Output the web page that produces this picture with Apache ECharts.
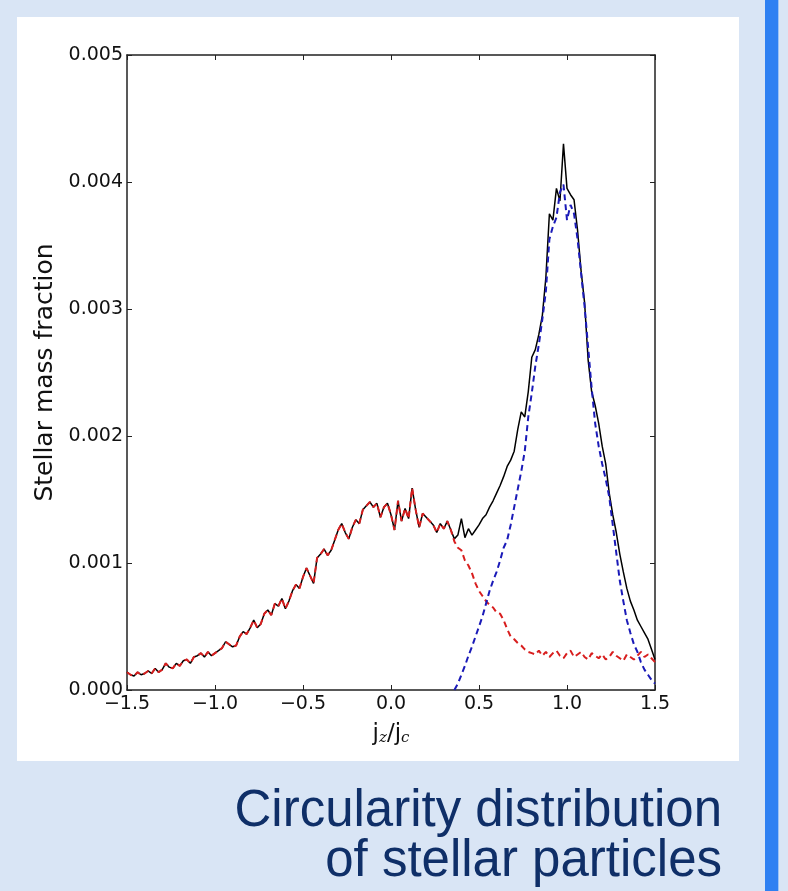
<!DOCTYPE html>
<html>
<head>
<meta charset="utf-8">
<title>Circularity distribution</title>
<script src="https://cdn.jsdelivr.net/npm/echarts@6/dist/echarts.min.js"></script>
<style>
  html, body { margin: 0; padding: 0; background: #d9e5f5; }
  #main { width: 788px; height: 891px; }
</style>
</head>
<body>
<div id="main"></div>
<script>
// bins of j_z/j_c, -1.5 .. 1.5 in steps of 0.02
var binStart = -1.5;
var binStep = 0.02;

// total stellar mass fraction (black line), one value per bin
var totalMass = [
  0.00014, 0.00012, 0.00011, 0.00014, 0.00012, 0.00013, 0.00015, 0.00013, 0.00017, 0.00014,
  0.00016, 0.00021, 0.00018, 0.00017, 0.00021, 0.00019, 0.00023, 0.00024, 0.00021, 0.00026,
  0.00027, 0.00029, 0.00026, 0.00030, 0.00027, 0.00029, 0.00031, 0.00033, 0.00038, 0.00036,
  0.00034, 0.00035, 0.00042, 0.00046, 0.00044, 0.00049, 0.00055, 0.00049, 0.00052, 0.00060,
  0.00063, 0.00059, 0.00068, 0.00066, 0.00072, 0.00064, 0.00070, 0.00078, 0.00083, 0.00080,
  0.00089, 0.00096, 0.00090, 0.00084, 0.00104, 0.00107, 0.00111, 0.00106, 0.00110, 0.00118,
  0.00126, 0.00131, 0.00124, 0.00119, 0.00128, 0.00134, 0.00131, 0.00142, 0.00145, 0.00148,
  0.00144, 0.00147, 0.00136, 0.00144, 0.00147, 0.00138, 0.00126, 0.00149, 0.00133, 0.00143,
  0.00135, 0.00159, 0.00142, 0.00128, 0.00139, 0.00136, 0.00133, 0.00130, 0.00124, 0.00131,
  0.00127, 0.00133, 0.00126, 0.00119, 0.00122, 0.00135, 0.00120, 0.00127, 0.00122, 0.00126,
  0.00130, 0.00135, 0.00138, 0.00144, 0.00149, 0.00155, 0.00161, 0.00168, 0.00176, 0.00181,
  0.00188, 0.00205, 0.00219, 0.00215, 0.00235, 0.00262, 0.00268, 0.00280, 0.00295, 0.00325,
  0.00375, 0.00370, 0.00395, 0.00385, 0.00430, 0.00395, 0.00390, 0.00386, 0.00362, 0.00330,
  0.00305, 0.00260, 0.00235, 0.00224, 0.00210, 0.00192, 0.00178, 0.00155, 0.00138, 0.00124,
  0.00107, 0.00093, 0.00080, 0.00070, 0.00063, 0.00055, 0.00050, 0.00045, 0.00040, 0.00032,
  0.00024
];

// spheroid (red dashed) follows the total up to 0.34, then its own tail from 0.36
var spheroidSplit = 93;
var spheroidTail = [
  0.00117, 0.00112, 0.00110, 0.00102, 0.00098, 0.00092, 0.00084, 0.00078, 0.00074, 0.00070,
  0.00067, 0.00065, 0.00061, 0.00060, 0.00055, 0.00048, 0.00042, 0.00040, 0.00037, 0.00035,
  0.00032, 0.00030, 0.00029, 0.00028, 0.00031, 0.00027, 0.00030, 0.00026, 0.00029, 0.00031,
  0.00027, 0.00025, 0.00029, 0.00031, 0.00026, 0.00028, 0.00030, 0.00026, 0.00024, 0.00029,
  0.00027, 0.00025, 0.00028, 0.00024, 0.00026, 0.00030, 0.00027, 0.00025, 0.00023, 0.00028,
  0.00026, 0.00024, 0.00027, 0.00030, 0.00026, 0.00028, 0.00025, 0.00022
];

// disk (blue dashed), from 0.36 to 1.5
var diskStart = 93;
var diskMass = [
  0.00000, 0.00005, 0.00012, 0.00019, 0.00027, 0.00034, 0.00042, 0.00050, 0.00058, 0.00068,
  0.00078, 0.00086, 0.00093, 0.00102, 0.00112, 0.00118, 0.00130, 0.00144, 0.00158, 0.00172,
  0.00188, 0.00215, 0.00234, 0.00255, 0.00272, 0.00292, 0.00314, 0.00355, 0.00365, 0.00372,
  0.00392, 0.00398, 0.00370, 0.00382, 0.00375, 0.00355, 0.00328, 0.00302, 0.00270, 0.00238,
  0.00210, 0.00192, 0.00178, 0.00166, 0.00152, 0.00130, 0.00108, 0.00086, 0.00070, 0.00055,
  0.00045, 0.00036, 0.00030, 0.00022, 0.00016, 0.00012, 0.00008, 0.00005
];

function binX(i) {
  return +(binStart + i * binStep).toFixed(2);
}

var totalData = totalMass.map(function (v, i) { return [binX(i), v]; });
var spheroidData = totalMass.slice(0, spheroidSplit).concat(spheroidTail)
  .map(function (v, i) { return [binX(i), v]; });
var diskData = diskMass.map(function (v, i) { return [binX(diskStart + i), v]; });

var tickFont = 'DejaVu Sans';
function fmtX(v) {
  return v.toFixed(1).replace('-', '\u2212');
}

var chart = echarts.init(document.getElementById('main'));

var frame = { show: true, onZero: false, lineStyle: { color: '#222', width: 1.5 } };
var inTick = { show: true, inside: true, length: 5, lineStyle: { color: '#222', width: 1 } };
var titleFont = '51px "Liberation Sans", Arial, sans-serif';

var option = {
  backgroundColor: '#d9e5f5',
  animation: false,
  graphic: [
    { type: 'rect', z: -10, shape: { x: 17, y: 17, width: 722, height: 744 }, style: { fill: '#ffffff' } },
    { type: 'rect', z: -10, shape: { x: 765, y: 0, width: 13, height: 891 }, style: { fill: '#2e80f2' } },
    { type: 'rect', z: -10, shape: { x: 778, y: 0, width: 1, height: 891 }, style: { fill: '#9cc3f7' } },
    {
      type: 'text', style: {
        x: 722, y: 812, text: 'Circularity distribution', textAlign: 'right', textVerticalAlign: 'middle',
        font: titleFont, fill: '#0f2f68'
      }
    },
    {
      type: 'text', style: {
        x: 722, y: 862, text: 'of stellar particles', textAlign: 'right', textVerticalAlign: 'middle',
        font: titleFont, fill: '#0f2f68'
      }
    }
  ],
  grid: { left: 127, top: 55, right: 133, bottom: 201, containLabel: false },
  xAxis: [
    {
      type: 'value', min: -1.5, max: 1.5, interval: 0.5, position: 'bottom',
      axisLine: frame, axisTick: inTick, splitLine: { show: false },
      axisLabel: { formatter: fmtX, color: '#111', fontFamily: tickFont, fontSize: 19, margin: 5 },
      name: '{j|j}{s|z}{j|/j}{s|c}', nameLocation: 'middle', nameGap: 28,
      nameTextStyle: {
        rich: {
          j: { fontFamily: 'DejaVu Sans', fontSize: 23, color: '#111', lineHeight: 28, verticalAlign: 'bottom' },
          s: { fontFamily: 'DejaVu Serif', fontStyle: 'italic', fontSize: 15, color: '#111', lineHeight: 22, verticalAlign: 'bottom' }
        }
      }
    },
    {
      type: 'value', min: -1.5, max: 1.5, interval: 0.5, position: 'top',
      axisLine: frame, axisTick: inTick, axisLabel: { show: false }, splitLine: { show: false }
    }
  ],
  yAxis: [
    {
      type: 'value', min: 0, max: 0.005, interval: 0.001, position: 'left',
      axisLine: frame, axisTick: inTick, splitLine: { show: false },
      axisLabel: {
        formatter: function (v) { return v.toFixed(3); },
        color: '#111', fontFamily: tickFont, fontSize: 19, margin: 4
      },
      name: 'Stellar mass fraction', nameLocation: 'middle', nameGap: 67, nameRotate: 90,
      nameTextStyle: { fontFamily: tickFont, fontSize: 25, color: '#111' }
    },
    {
      type: 'value', min: 0, max: 0.005, interval: 0.001, position: 'right',
      axisLine: frame, axisTick: inTick, axisLabel: { show: false }, splitLine: { show: false }
    }
  ],
  series: [
    {
      name: 'total', type: 'line', data: totalData, symbol: 'none',
      lineStyle: { color: '#000000', width: 1.5 }, z: 2
    },
    {
      name: 'spheroid', type: 'line', data: spheroidData, symbol: 'none',
      lineStyle: { color: '#d81e1e', width: 2, type: [6, 4] }, z: 3
    },
    {
      name: 'disk', type: 'line', data: diskData, symbol: 'none',
      lineStyle: { color: '#1a1ab8', width: 2, type: [6, 4] }, z: 4
    }
  ]
};

chart.setOption(option);
</script>
</body>
</html>
